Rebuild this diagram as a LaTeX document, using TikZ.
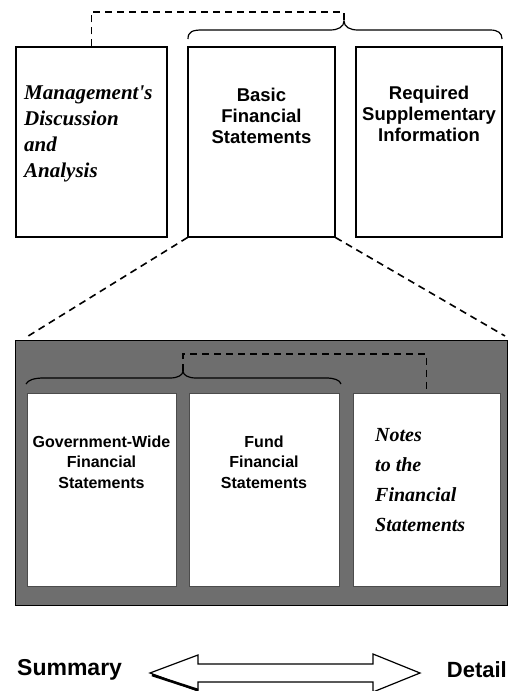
\documentclass[tikz,border=0pt]{standalone}
\usepackage{fontspec}
\newfontfamily\sansb{Liberation Sans}
\newfontfamily\scriptf{Liberation Serif}
\usetikzlibrary{calc}
\begin{document}
\begin{tikzpicture}[x=1pt,y=-1pt,
  box/.style={draw=black, line width=1.1pt, fill=white, inner sep=0pt},
  inbox/.style={draw=black!70, line width=0.6pt, fill=white, inner sep=0pt},
  sanslbl/.style={font=\sansb\bfseries\fontsize{18.5}{21}\selectfont, align=center, inner sep=0pt},
  scriptlbl/.style={font=\scriptf\bfseries\itshape\fontsize{21}{26}\selectfont, align=left, inner sep=0pt},
  dashln/.style={draw=black, line width=1.6pt, dash pattern=on 7pt off 5pt},
  bracel/.style={draw=black, line width=1.2pt}
]
\useasboundingbox (0,0) rectangle (508,691);

% top boxes
\node[box, minimum width=151pt, minimum height=190pt] (mda) at (91.5,142) {};
\node[box, minimum width=147pt, minimum height=190pt] (bfs) at (261.5,142) {};
\node[box, minimum width=146pt, minimum height=190pt] (rsi) at (429,142) {};

\node[scriptlbl, anchor=west] (mdat) at (24,134) {Management's\\Discussion\\and\\Analysis};
\node[sanslbl] (bfst) at (261.5,116) {Basic\\Financial\\Statements};
\node[sanslbl] (rsit) at (429,114) {Required\\Supplementary\\Information};

% top brace
\coordinate (tip1) at (344,21);
\coordinate (top1) at (344,12);
\draw[bracel] (188,39) .. controls (188,32) and (192,30) .. (202,30) -- (330,30)
  .. controls (338,30) and (344,27) .. (tip1)
  .. controls (344,27) and (350,30) .. (358,30) -- (490,30)
  .. controls (498,30) and (502,33) .. (502,39);
\draw[dashln] (mda.north) |- (top1) -- (tip1);

% gray frame
\node[draw=black, line width=1pt, fill=black!57, minimum width=492pt, minimum height=265pt, inner sep=0pt] (frame) at (261,472.5) {};
\node[inbox, minimum width=149pt, minimum height=193pt] (gws) at (101.5,489.5) {};
\node[inbox, minimum width=150pt, minimum height=193pt] (ffs) at (264,489.5) {};
\node[inbox, minimum width=147pt, minimum height=193pt] (ntf) at (426.5,489.5) {};

\node[sanslbl, font=\sansb\bfseries\fontsize{16}{20.5}\selectfont] (gwst) at (101.5,462) {Government-Wide\\Financial\\Statements};
\node[sanslbl, font=\sansb\bfseries\fontsize{16}{20.5}\selectfont] (ffst) at (264,462) {Fund\\Financial\\Statements};
\node[scriptlbl, font=\scriptf\bfseries\itshape\fontsize{20}{30}\selectfont, anchor=west] (ntft) at (375,480) {Notes\\to the\\Financial\\Statements};

% zoom lines
\coordinate (zl) at (25,338);
\coordinate (zr) at (505,336);
\draw[dashln] (bfs.south west) -- (zl);
\draw[dashln] (bfs.south east) -- (zr);

% lower brace
\coordinate (tip2) at (183,371);
\coordinate (top2) at (183,354);
\draw[bracel] (26,384) .. controls (28,380) and (34,378) .. (44,378) -- (170,378)
  .. controls (178,378) and (183,375) .. (tip2)
  .. controls (183,375) and (188,378) .. (196,378) -- (326,378)
  .. controls (334,378) and (340,380) .. (341,384);
\draw[dashln] (tip2) -- (top2) -| (ntf.north);

% summary / detail arrow
\node[font=\sansb\bfseries\fontsize{23}{26}\selectfont, anchor=west, inner sep=0pt] (sum) at (17,670) {Summary};
\node[font=\sansb\bfseries\fontsize{22}{26}\selectfont, anchor=east, inner sep=0pt] (det) at (507,670) {Detail};
\draw[line width=1.2pt, fill=white, line join=miter]
  (150,673) -- (198,655) -- (198,664) -- (373,664) -- (373,654) -- (420,673)
  -- (373,692) -- (373,682) -- (198,682) -- (198,691) -- cycle;
\draw[line width=2.6pt] (152,675) -- (198,690);
\end{tikzpicture}
\end{document}
